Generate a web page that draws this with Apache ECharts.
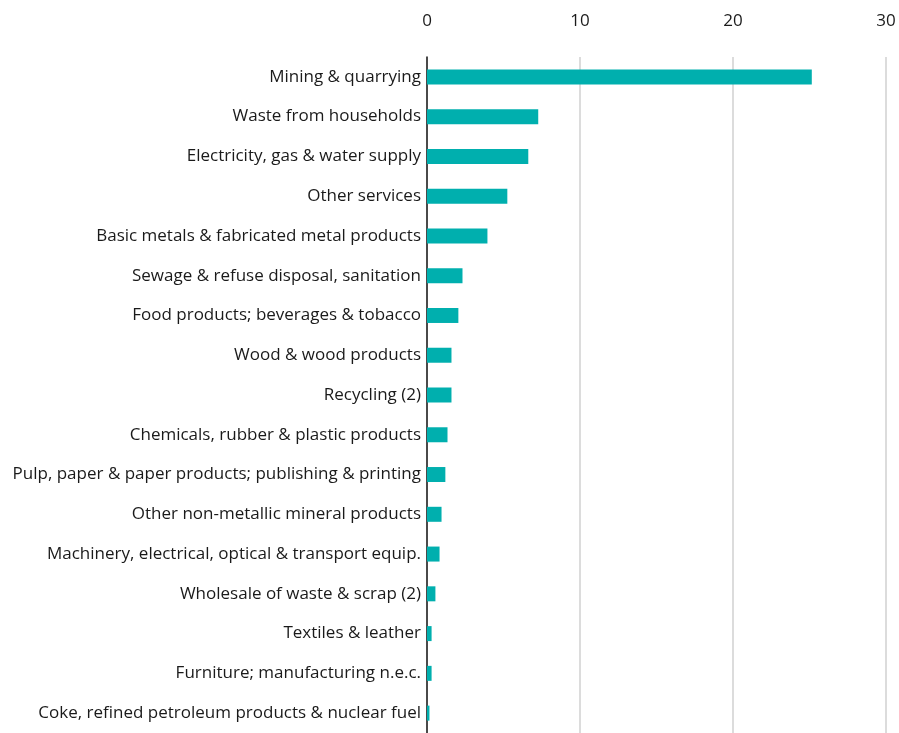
<!DOCTYPE html>
<html>
<head>
<meta charset="utf-8">
<script src="https://cdn.jsdelivr.net/npm/echarts@6/dist/echarts.min.js"></script>
<style>
  html, body { margin: 0; padding: 0; background: #fff; }
  #chart { width: 899px; height: 733px; }
</style>
</head>
<body>
<div id="chart"></div>
<script>
// categories top to bottom
var sectors = [
  "Mining & quarrying",
  "Waste from households",
  "Electricity, gas & water supply",
  "Other services",
  "Basic metals & fabricated metal products",
  "Sewage & refuse disposal, sanitation",
  "Food products; beverages & tobacco",
  "Wood & wood products",
  "Recycling (2)",
  "Chemicals, rubber & plastic products",
  "Pulp, paper & paper products; publishing & printing",
  "Other non-metallic mineral products",
  "Machinery, electrical, optical & transport equip.",
  "Wholesale of waste & scrap (2)",
  "Textiles & leather",
  "Furniture; manufacturing n.e.c.",
  "Coke, refined petroleum products & nuclear fuel"
];
var values = [25.15, 7.27, 6.62, 5.25, 3.95, 2.32, 2.05, 1.6, 1.6, 1.34, 1.2, 0.95, 0.82, 0.55, 0.3, 0.3, 0.16];

var chart = echarts.init(document.getElementById("chart"));
var font = "'Open Sans', sans-serif";

var option = {
  animation: false,
  grid: {
    left: 427,
    right: 13,
    top: 57,
    bottom: 0
  },
  xAxis: {
    type: "value",
    position: "top",
    min: 0,
    max: 30,
    interval: 10,
    axisLine: { show: false },
    axisTick: { show: false },
    axisLabel: {
      margin: 27,
      fontSize: 17,
      color: "#1a1a1a",
      fontFamily: font
    },
    splitLine: {
      lineStyle: { color: "#d0d0d0", width: 1.5 }
    }
  },
  yAxis: {
    type: "category",
    inverse: true,
    data: sectors,
    axisLine: { lineStyle: { color: "#1a1a1a", width: 1.5 } },
    axisTick: { length: 5, lineStyle: { color: "#1a1a1a" } },
    axisLabel: {
      margin: 6,
      fontSize: 17,
      color: "#1a1a1a",
      fontFamily: font
    }
  },
  series: [
    {
      type: "bar",
      data: values,
      barWidth: 15,
      itemStyle: { color: "#00afae" }
    }
  ]
};

chart.setOption(option);
</script>
</body>
</html>
